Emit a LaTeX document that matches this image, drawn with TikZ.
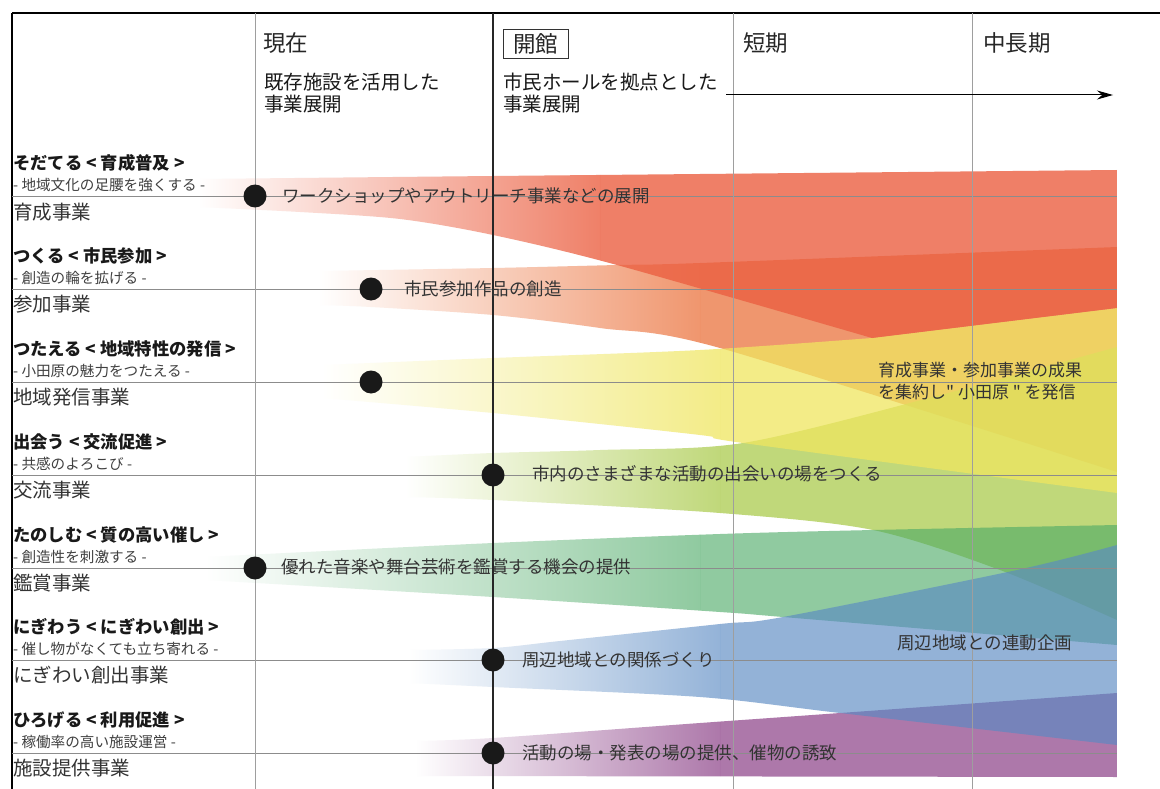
\documentclass[tikz,border=0pt]{standalone}
\usepackage{fontspec}
\setmainfont{Noto Sans CJK JP}[Ligatures=TeXOff]
\usetikzlibrary{arrows.meta}

\definecolor{b1a}{RGB}{239,128,104}\definecolor{b1c}{RGB}{235,96,66}
\definecolor{b2a}{RGB}{240,150,110}\definecolor{b2c}{RGB}{236,124,74}
\definecolor{b3a}{RGB}{243,236,136}\definecolor{b3c}{RGB}{239,230,96}
\definecolor{b4a}{RGB}{192,216,122}\definecolor{b4c}{RGB}{171,203,78}
\definecolor{b5a}{RGB}{144,202,160}\definecolor{b5c}{RGB}{76,170,102}
\definecolor{b6a}{RGB}{148,179,216}\definecolor{b6c}{RGB}{90,138,195}
\definecolor{b7a}{RGB}{173,120,170}\definecolor{b7c}{RGB}{146,75,142}

\tikzset{
  vgrid/.style={draw=black!38, line width=0.7pt},
  vmain/.style={draw=black!85, line width=1.4pt},
  rowline/.style={draw=black!45, line width=0.7pt},
  myframe/.style={draw=black, line width=1.1pt},
  dotnode/.style={circle, fill=black!90, draw=none, minimum size=23pt, inner sep=0pt},
  hdr/.style={anchor=west, inner sep=0pt, font=\fontsize{22.5}{26}\selectfont, text=black!85},
  subhdr/.style={anchor=west, inner sep=0pt, font=\fontsize{19.5}{23}\selectfont, text=black!90},
  ttl/.style={anchor=west, inner sep=0pt, font=\fontsize{17.3}{20}\selectfont\bfseries, text=black!90},
  subttl/.style={anchor=west, inner sep=0pt, font=\fontsize{14.6}{17}\selectfont, text=black!75},
  catg/.style={anchor=west, inner sep=0pt, font=\fontsize{19.5}{23}\selectfont, text=black!80},
  lbl/.style={anchor=west, inner sep=0pt, font=\fontsize{17.5}{21}\selectfont, text=black!80},
}

% #1 clip path, #2 fade start x, #3 fade end x, #4 faded colour, #5 full colour, #6 opacity
\newcommand\bandfill[6]{%
  \begin{scope}
    \clip #1;
    \shade[left color=white, right color=#4] (#2,0) rectangle (#3,789);
    \fill[#5, fill opacity=#6] (#3,0) rectangle (1117,789);
  \end{scope}}

\begin{document}
\begin{tikzpicture}[x=1pt,y=-1pt]
\useasboundingbox (0,0) rectangle (1160,789);
\fill[white] (0,0) rectangle (1160,789);

% ---------- bands ----------
% b7 施設提供
\bandfill{plot[smooth] coordinates {(415,741) (493,738) (700,723) (840,713) (1117,693)} -- (1117,777) -- (415,776) -- cycle}{415}{720}{b7a}{b7c}{0.75}
% b2 参加
\bandfill{plot[smooth] coordinates {(318,271) (493,268) (617,265) (700,263) (1117,247)} -- plot[smooth] coordinates {(1117,472) (720,348) (600,328) (493,315) (371,307) (318,305)} -- cycle}{318}{700}{b2a}{b2c}{0.8}
% b4 交流
\bandfill{plot[smooth] coordinates {(405,457) (493,453) (600,450) (743,443) (933,397) (1117,347)} -- plot[smooth] coordinates {(1117,620) (1000,570) (873,530) (720,513) (493,500) (405,497)} -- cycle}{405}{720}{b4a}{b4c}{0.75}
% b5 鑑賞
\bandfill{plot[smooth] coordinates {(205,557) (493,543) (720,534) (873,530) (1117,525)} -- plot[smooth] coordinates {(1117,645) (783,617) (720,612) (493,597) (205,580)} -- cycle}{205}{700}{b5a}{b5c}{0.62}
% b6 にぎわい
\bandfill{plot[smooth] coordinates {(408,650) (493,648) (560,641) (720,624) (783,617) (1017,570) (1117,545)} -- plot[smooth] coordinates {(1117,745) (840,713) (700,697) (493,687) (408,683)} -- cycle}{408}{720}{b6a}{b6c}{0.65}
% b3 地域発信
\bandfill{plot[smooth] coordinates {(322,365) (493,358) (700,350) (872,338)} -- (1117,308) -- plot[smooth] coordinates {(1117,493) (743,443) (700,435) (493,413) (322,398)} -- cycle}{322}{720}{b3a}{b3c}{0.75}
% b1 育成
\bandfill{plot[smooth] coordinates {(198,179) (493,176) (1117,170)} -- (1117,308) -- plot[smooth] coordinates {(872,338) (617,265) (493,235) (400,219) (300,212) (198,207)} -- cycle}{198}{600}{b1a}{b1c}{0.8}

% ---------- grid ----------
\draw[myframe] (12,13) -- (1160,13);
\draw[myframe] (12,13) -- (12,789);
\foreach \yy in {196,289,382,475,568,660,753} {\draw[rowline] (12,\yy) -- (1117,\yy);}
\draw[vgrid] (255,13) -- (255,789);
\draw[vgrid] (733,13) -- (733,789);
\draw[vgrid] (972,13) -- (972,789);
\draw[vmain] (493,13) -- (493,789);

% ---------- headers ----------
\node[hdr] (hnow) at (263,43) {現在};
\node[hdr, anchor=center, draw=black!80, line width=0.9pt, minimum width=65pt, minimum height=29pt] (hopen) at (535.5,43.5) {開館};
\node[hdr] (hshort) at (743,43) {短期};
\node[hdr] (hlong) at (983,43) {中長期};
\node[subhdr] (sa1) at (264,82) {既存施設を活用した};
\node[subhdr] (sa2) at (264,104) {事業展開};
\node[subhdr] (sb1) at (503,82) {市民ホールを拠点とした};
\node[subhdr] (sb2) at (503,104) {事業展開};
\coordinate (arrS) at (726,95);
\coordinate (arrE) at (1113,95);
\draw[line width=1pt, -{Stealth[length=16pt,width=9pt]}] (arrS) -- (arrE);

% ---------- left column ----------
\node[ttl] (t1) at (13,163) {そだてる < 育成普及 >};
\node[subttl] (s1) at (13,185) {- 地域文化の足腰を強くする -};
\node[catg] (c1) at (13,212) {育成事業};
\node[ttl] (t2) at (13,256) {つくる < 市民参加 >};
\node[subttl] (s2) at (13,278) {- 創造の輪を拡げる -};
\node[catg] (c2) at (13,304) {参加事業};
\node[ttl] (t3) at (13,349) {つたえる < 地域特性の発信 >};
\node[subttl] (s3) at (13,371) {- 小田原の魅力をつたえる -};
\node[catg] (c3) at (13,397) {地域発信事業};
\node[ttl] (t4) at (13,442) {出会う < 交流促進 >};
\node[subttl] (s4) at (13,464) {- 共感のよろこび -};
\node[catg] (c4) at (13,490) {交流事業};
\node[ttl] (t5) at (13,535) {たのしむ < 質の高い催し >};
\node[subttl] (s5) at (13,557) {- 創造性を刺激する -};
\node[catg] (c5) at (13,583) {鑑賞事業};
\node[ttl] (t6) at (13,627) {にぎわう < にぎわい創出 >};
\node[subttl] (s6) at (13,649) {- 催し物がなくても立ち寄れる -};
\node[catg] (c6) at (13,675) {にぎわい創出事業};
\node[ttl] (t7) at (13,720) {ひろげる < 利用促進 >};
\node[subttl] (s7) at (13,742) {- 稼働率の高い施設運営 -};
\node[catg] (c7) at (13,768) {施設提供事業};

% ---------- dots ----------
\node[dotnode] (d1) at (255,196) {};
\node[dotnode] (d2) at (371,289) {};
\node[dotnode] (d3) at (371,382) {};
\node[dotnode] (d4) at (493,475) {};
\node[dotnode] (d5) at (255,568) {};
\node[dotnode] (d6) at (493,660) {};
\node[dotnode] (d7) at (493,753) {};

% ---------- band labels ----------
\node[lbl] (l1) at (282,196) {ワークショップやアウトリーチ事業などの展開};
\node[lbl] (l2) at (404,289) {市民参加作品の創造};
\node[lbl] (l4) at (532,474) {市内のさまざまな活動の出会いの場をつくる};
\node[lbl] (l5) at (281,567) {優れた音楽や舞台芸術を鑑賞する機会の提供};
\node[lbl] (l6) at (522,660) {周辺地域との関係づくり};
\node[lbl] (l7) at (522,753) {活動の場・発表の場の提供、催物の誘致};
\node[lbl, font=\fontsize{17}{20}\selectfont] (r1) at (878,370) {育成事業・参加事業の成果};
\node[lbl, font=\fontsize{17}{20}\selectfont] (r2) at (878,392) {を集約し" 小田原 " を発信};
\node[lbl] (r3) at (897,643) {周辺地域との連動企画};
\end{tikzpicture}
\end{document}
